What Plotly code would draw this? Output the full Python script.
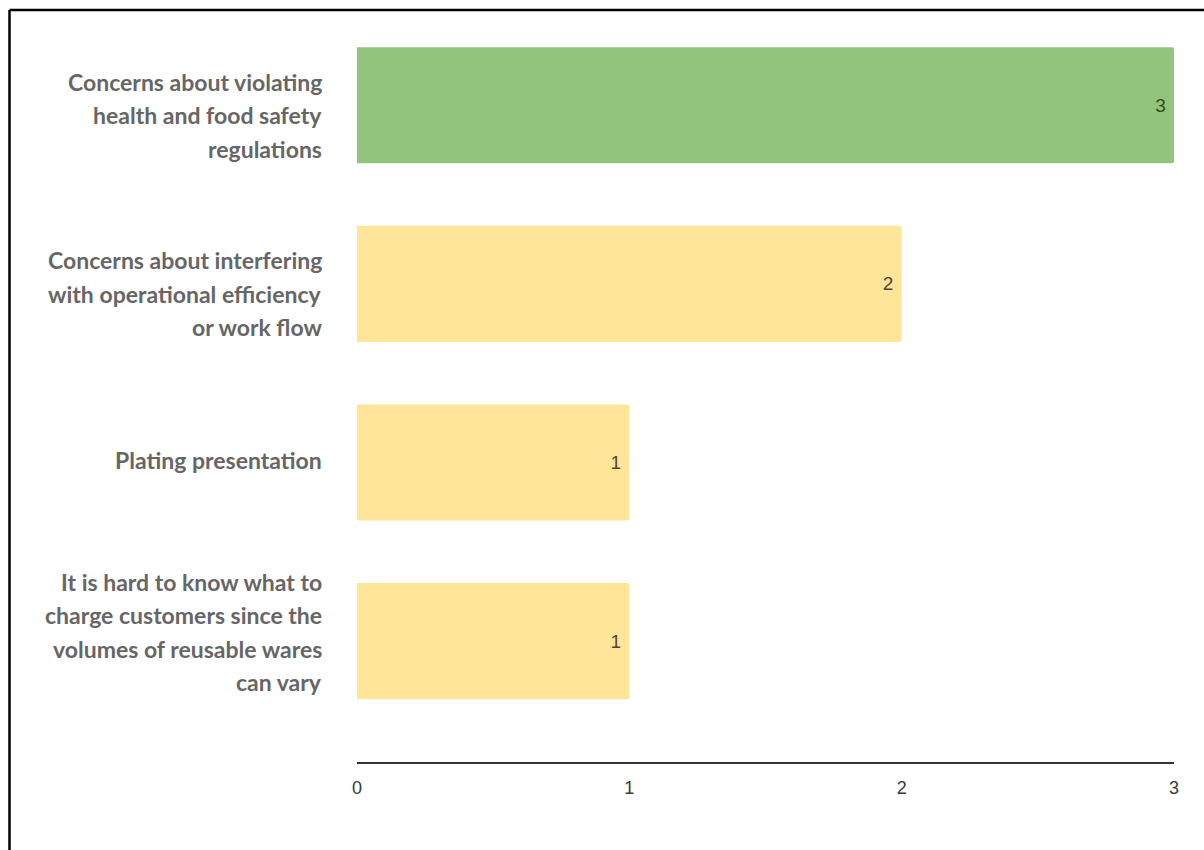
import plotly.graph_objects as go

# Reasons given, top to bottom, with the number of responses for each
reasons = [
    ["Concerns about violating", "health and food safety", "regulations"],
    ["Concerns about interfering", "with operational efficiency", "or work flow"],
    ["Plating presentation"],
    ["It is hard to know what to", "charge customers since the", "volumes of reusable wares", "can vary"],
]
responses = [3, 2, 1, 1]
x_ticks = [0, 1, 2, 3]

# Styling
bar_colors = ["#93c47d", "#ffe599", "#ffe599", "#ffe599"]
value_colors = ["#2a5418", "#4f4730", "#4f4730", "#4f4730"]
label_offset_px = [10, 10, -2, -9]   # vertical nudge of each label block
line_gap_px = 33.5

W, H = 1204, 850
ML, MR, MT, MB = 357, 30, 16, 88
plot_w = W - ML - MR
plot_h = H - MT - MB

ids = list(range(len(responses)))

fig = go.Figure(
    go.Bar(
        x=responses,
        y=ids,
        orientation="h",
        width=0.65,
        marker=dict(color=bar_colors, line=dict(width=0)),
        text=[str(v) for v in responses],
        texttemplate="%{text}\u00a0",
        textposition="inside",
        insidetextanchor="end",
        textangle=0,
        constraintext="none",
        textfont=dict(family="Liberation Sans, Arial, sans-serif", size=19, color=value_colors),
        hoverinfo="skip",
    )
)

# Multi-line category labels, one annotation per line for wider line spacing
annotations = []
label_x = (324 - ML) / plot_w
for i, lines in enumerate(reasons):
    n = len(lines)
    for j, line in enumerate(lines):
        dy = label_offset_px[i] + (j - (n - 1) / 2) * line_gap_px
        annotations.append(dict(
            x=label_x, xref="paper", xanchor="right",
            y=i, yref="y", yanchor="middle", yshift=-dy,
            text=line, showarrow=False, align="right",
            font=dict(family="Lato, sans-serif", size=23, color="#666666", weight="bold"),
        ))

# Frame lines along the top and left edges of the page
def px_to_paper_x(px):
    return (px - ML) / plot_w

def px_to_paper_y(py):
    return (H - MB - py) / plot_h

shapes = [
    dict(type="line", xref="paper", yref="paper",
         x0=px_to_paper_x(9.5), x1=px_to_paper_x(W + 5),
         y0=px_to_paper_y(10), y1=px_to_paper_y(10),
         line=dict(color="#000000", width=2.5)),
    dict(type="line", xref="paper", yref="paper",
         x0=px_to_paper_x(9.5), x1=px_to_paper_x(9.5),
         y0=px_to_paper_y(10), y1=px_to_paper_y(H + 5),
         line=dict(color="#000000", width=2.5)),
]

fig.update_layout(
    width=W, height=H,
    margin=dict(l=ML, r=MR, t=MT, b=MB, pad=0),
    paper_bgcolor="#ffffff",
    plot_bgcolor="#ffffff",
    showlegend=False,
    barcornerradius=2,
    annotations=annotations,
    shapes=shapes,
    xaxis=dict(
        range=[0, 3],
        tickvals=x_ticks,
        ticktext=[str(t) for t in x_ticks],
        showgrid=False, zeroline=False,
        showline=True, linecolor="#333333", linewidth=1.5,
        ticks="", ticklabelstandoff=9,
        tickfont=dict(family="Liberation Sans, Arial, sans-serif", size=18, color="#3a3a3a"),
        fixedrange=True,
    ),
    yaxis=dict(
        range=[3.677, -0.5],
        showticklabels=False,
        showgrid=False, zeroline=False, showline=False, ticks="",
        fixedrange=True,
    ),
)

fig.write_html("out.html")
